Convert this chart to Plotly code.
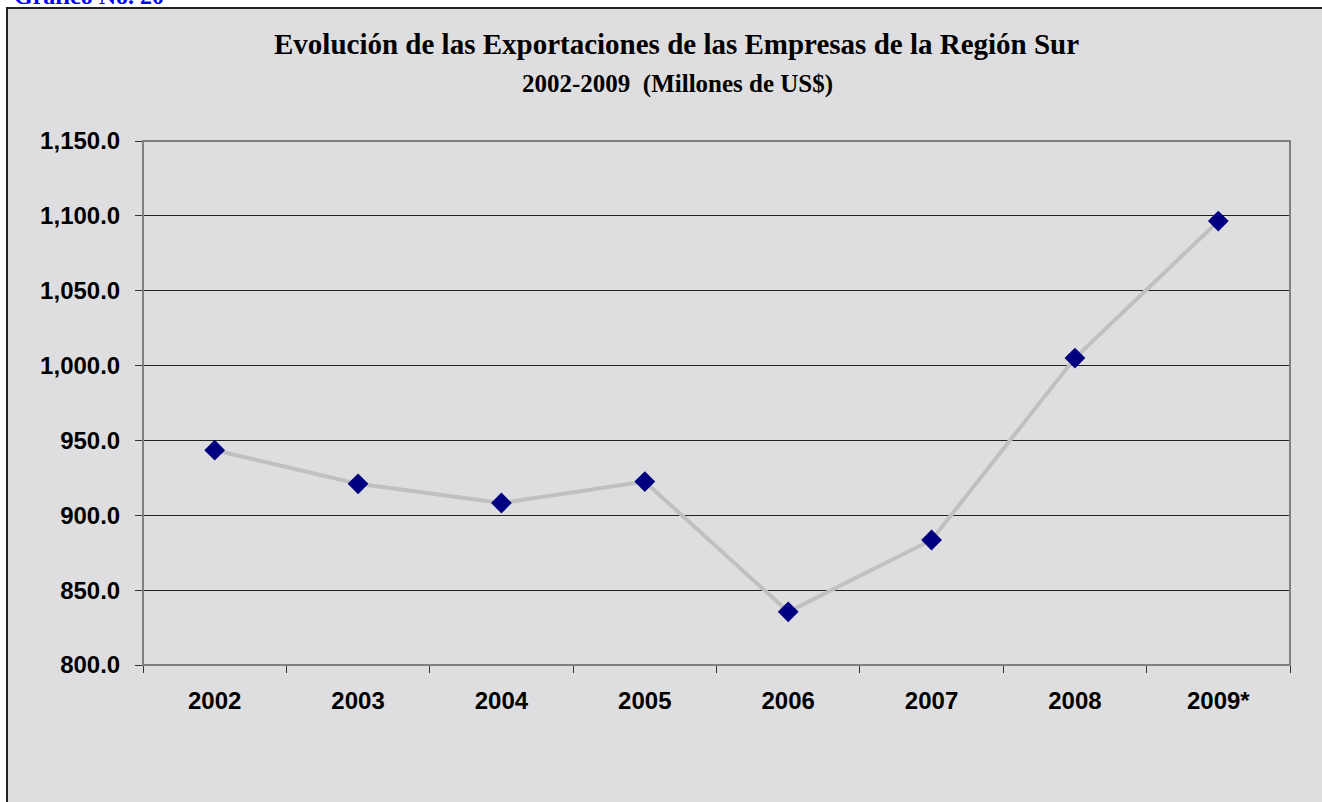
import plotly.graph_objects as go

years = ["2002", "2003", "2004", "2005", "2006", "2007", "2008", "2009*"]
exports = [943.5, 921.0, 908.2, 922.5, 835.5, 883.5, 1005.0, 1096.5]
y_ticks = [800, 850, 900, 950, 1000, 1050, 1100, 1150]
y_tick_labels = [f"{v:,.1f}" for v in y_ticks]

W, H = 1322, 802
L, R, T, B = 143, 1290, 141, 665


def px_x(p):
    return (p - L) / (R - L)


def px_y(p):
    return (B - p) / (B - T)


fig = go.Figure()
fig.add_trace(go.Scatter(
    x=years, y=exports, mode="lines+markers",
    line=dict(color="#C0C0C0", width=4),
    marker=dict(symbol="diamond", size=16, color="#000080"),
    showlegend=False, hoverinfo="x+y",
))

fig.update_layout(
    width=W, height=H,
    margin=dict(l=L, r=W - R, t=T, b=H - B),
    paper_bgcolor="white",
    plot_bgcolor="#FFFFCC",
    font=dict(family="Liberation Sans, Arial, sans-serif", color="black"),
    xaxis=dict(
        type="category", range=[-0.5, len(years) - 0.5],
        tickson="boundaries", ticks="outside", ticklen=7,
        tickcolor="#333", showgrid=False, showline=True, linecolor="#333",
        linewidth=1, tickfont=dict(size=24, family="Liberation Sans, Arial", weight="bold"),
        ticklabelstandoff=14,
    ),
    yaxis=dict(
        range=[800, 1150], tickvals=y_ticks, ticktext=y_tick_labels,
        ticks="outside", ticklen=7, tickcolor="#333",
        showgrid=True, gridcolor="#222", gridwidth=1,
        showline=True, linecolor="#333", linewidth=1, zeroline=False,
        tickfont=dict(size=24, family="Liberation Sans, Arial", weight="bold"),
        ticklabelstandoff=10,
    ),
    shapes=[
        dict(type="rect", xref="paper", yref="paper", layer="below",
             x0=px_x(7), x1=px_x(W + 20), y0=px_y(H + 20), y1=px_y(8),
             fillcolor="#DEDEE0", line=dict(color="#222", width=2)),
        dict(type="rect", xref="paper", yref="paper", layer="above",
             x0=0, x1=1, y0=0, y1=1, fillcolor="rgba(0,0,0,0)",
             line=dict(color="#808080", width=2)),
    ],
    annotations=[
        dict(text="<b>Evolución de las Exportaciones de las Empresas de la Región Sur</b>",
             xref="paper", yref="paper", x=px_x(676), y=px_y(44),
             xanchor="center", yanchor="middle", showarrow=False,
             font=dict(family="Liberation Serif, Times New Roman, serif", size=29, color="black")),
        dict(text="<b>2002-2009  (Millones de US$)</b>",
             xref="paper", yref="paper", x=px_x(677), y=px_y(84),
             xanchor="center", yanchor="middle", showarrow=False,
             font=dict(family="Liberation Serif, Times New Roman, serif", size=25, color="black")),
        dict(text="<b>Gráfico No. 20</b>",
             xref="paper", yref="paper", x=px_x(12), y=px_y(-4),
             xanchor="left", yanchor="middle", showarrow=False,
             font=dict(family="Liberation Serif, Times New Roman, serif", size=24, color="#0000FF")),
    ],
)

fig.write_html(
    "out.html",
    config={"displayModeBar": False},
    post_script="document.body.style.margin='0';document.body.style.overflow='hidden';",
)
